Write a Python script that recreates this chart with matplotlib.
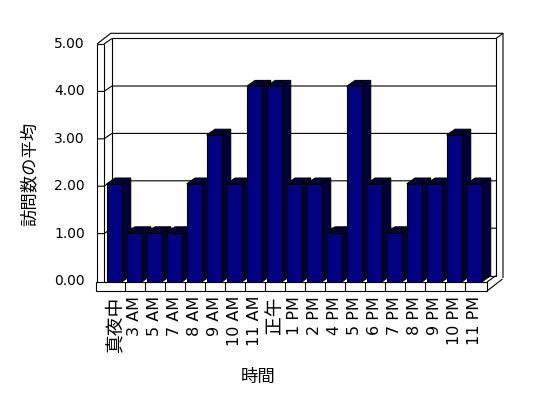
import matplotlib
matplotlib.use("Agg")
import matplotlib.pyplot as plt
from matplotlib.patches import Polygon

plt.rcParams['font.family'] = ['DejaVu Sans', 'Noto Sans CJK JP']

hours = ["真夜中", "3 AM", "5 AM", "7 AM", "8 AM", "9 AM", "10 AM", "11 AM", "正午",
         "1 PM", "2 PM", "4 PM", "5 PM", "6 PM", "7 PM", "8 PM", "9 PM", "10 PM", "11 PM"]
visits = [2, 1, 1, 1, 2, 3, 2, 4, 4, 2, 2, 1, 4, 2, 1, 2, 2, 3, 2]
yticks = [0, 1, 2, 3, 4, 5]
ylabels = ["0.00", "1.00", "2.00", "3.00", "4.00", "5.00"]

front = "#000080"
dark = "#00003c"
lw = 0.8

W, H = 548, 398
fig = plt.figure(figsize=(W / 100, H / 100), dpi=100)
# axes: categories span px 104.5..484.5, value 0 at px 281.5, 48.8 px per unit
ax = fig.add_axes([104.5 / W, (H - 281.5) / H, 380 / W, 244 / H])
ax.set_xlim(-0.5, 18.5)
ax.set_ylim(0, 5)
ax.axis("off")


def fx(px):
    return -0.5 + (px - 104.5) / 20


def fy(py):
    return (281.5 - py) / 48.8


def line(pts, z=1):
    ax.plot([fx(p[0]) for p in pts], [fy(p[1]) for p in pts], color="k", lw=lw,
            zorder=z, clip_on=False, solid_capstyle="butt")


def poly(pts, fc, z=1):
    ax.add_patch(Polygon([(fx(p[0]), fy(p[1])) for p in pts], closed=True, fc=fc,
                         ec="k", lw=lw, zorder=z, clip_on=False))


# walls
poly([(112, 38.5), (496, 38.5), (496, 275.6), (112, 275.6)], "white", 0.5)
line([(97, 44), (110.7, 33.3), (503, 33.3), (503, 278)])
line([(496, 38.5), (503, 33.3)])
line([(104, 44), (112, 38.5)])
line([(97, 44), (104, 44)])
line([(97, 44), (97, 291)])
line([(104, 44), (104, 282)])

# gridlines and wall ticks
for v in yticks[1:-1]:
    yf = 281 - 47.4 * v
    yb = 275.6 - 47.4 * v
    line([(97, yf), (104, yf), (112, yb), (496, yb)])

# bars: side and top faces first, then fronts
bw = 0.78
ddx, ddy = 0.42, 0.12
for i, v in enumerate(visits):
    r = i + bw / 2
    l = i - bw / 2
    ax.add_patch(Polygon([(r, 0), (r, v), (r + ddx, v + ddy), (r + ddx, ddy)],
                         fc=dark, ec="k", lw=lw, zorder=2, clip_on=False))
    ax.add_patch(Polygon([(l, v), (r, v), (r + ddx, v + ddy), (l + ddx, v + ddy)],
                         fc=dark, ec="k", lw=lw, zorder=2, clip_on=False))
ax.bar(range(len(visits)), visits, width=bw, color=front, edgecolor="k", lw=lw,
       zorder=3, clip_on=False)

# floor
poly([(96, 282), (487, 282), (487, 291), (96, 291)], "white", 4)
for k in range(len(hours) - 1):
    xk = 124.5 + 20 * k
    line([(xk, 282), (xk, 291)], 4.5)
line([(487, 282), (496, 275.6)], 4.5)
line([(487, 291), (502.5, 279)], 4.5)

# y tick labels
for v, s in zip(yticks, ylabels):
    ax.text(fx(85), fy(281 - 47.4 * v), s, ha="right", va="center", fontsize=10,
            clip_on=False)

# x tick labels
for i, s in enumerate(hours):
    cjk = not s[0].isascii()
    ax.text(i, fy(296), s, rotation=90, ha="center", va="top",
            fontsize=13.5 if cjk else 11.5, clip_on=False)

fig.text(30 / W, 1 - 174 / H, "訪問数の平均", rotation=90, ha="center", va="center",
         fontsize=12.5, family=["Noto Sans CJK JP"])
fig.text(258 / W, 1 - 377 / H, "時間", ha="center", va="center", fontsize=12.5,
         family=["Noto Sans CJK JP"])

fig.savefig("out.png", dpi=100)
